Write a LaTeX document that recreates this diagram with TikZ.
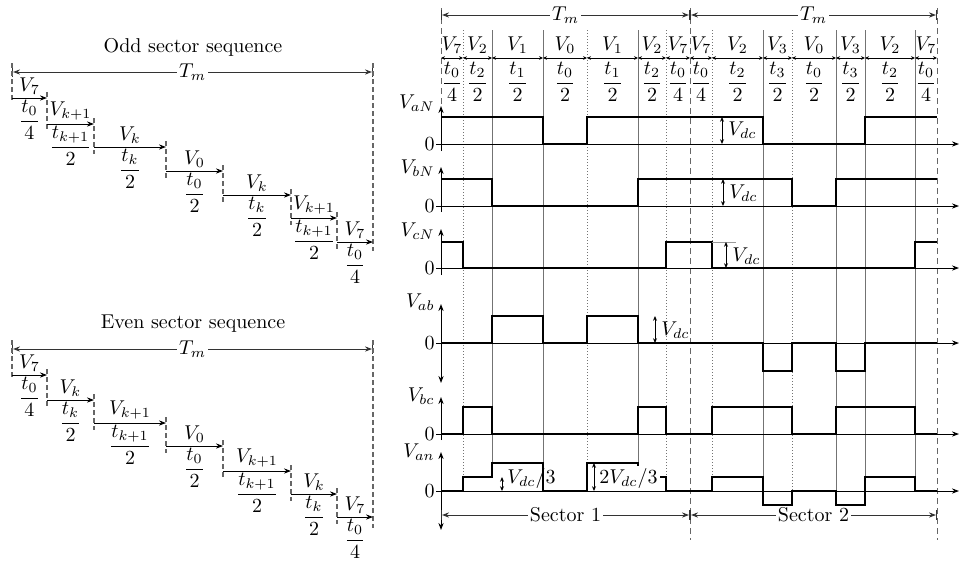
\documentclass[tikz,border=0pt]{standalone}
\usepackage{amsmath}
\usetikzlibrary{arrows.meta}
\tikzset{
  wave/.style={line width=1.1pt, line join=miter},
  axisl/.style={line width=0.5pt},
  gridl/.style={black!55, line width=0.45pt},
  gridd/.style={black!55, line width=0.5pt, densely dotted},
  bnd/.style={black!60, line width=0.5pt, dash pattern=on 3pt off 2pt},
  seqbnd/.style={black!60, line width=0.55pt, dash pattern=on 2.5pt off 1.5pt},
  dimarr/.style={<->, >={Stealth[length=2.4pt,width=2pt]}, line width=0.45pt},
  segarr/.style={<->, >={Stealth[length=2pt,width=1.8pt]}, line width=0.5pt},
  seqarr/.style={->, line width=0.5pt},
  spanarr/.style={|<->|, line width=0.5pt, draw=black!80},
  txt/.style={inner sep=1pt},
  wtxt/.style={inner sep=1pt, fill=white, text=black},
}
\newcommand{\seqpanel}[4]{%
\begin{scope}[shift={(0,#1)}]
  \node[txt] (#3title) at (193,47) {#2};
  \coordinate (#3L) at (12,72);
  \coordinate (#3R) at (373,72);
  \draw[spanarr] (#3L) -- node[wtxt] (#3tm) {$T_m$} (#3R);
  \draw[seqbnd] (12,63) -- (12,102);
  \draw[seqbnd] (373,63) -- (373,251);
  \foreach \xa/\xb/\ya/\yb/\lab/\fn/\fd [count=\i] in {#4} {
    \coordinate (#3a\i) at (\xa,\ya);
    \coordinate (#3b\i) at (\xb,\ya);
    \draw[seqarr] (#3a\i) -- (#3b\i);
    \node[txt, anchor=south] (#3l\i) at ({(\xa+\xb)/2},{\ya-1}) {$\lab$};
    \node[inner sep=0pt, anchor=north] (#3f\i) at ({(\xa+\xb)/2},{\ya+2}) {$\dfrac{\fn}{\fd}$};
    \ifnum\i<7
      \draw[seqbnd] (\xb,{\ya-6}) -- (\xb,{\yb+7});
    \fi
  }
\end{scope}}
\begin{document}
\begin{tikzpicture}[x=0.5pt,y=-0.5pt, >={Stealth[length=3.5pt,width=2.6pt]}]
\useasboundingbox (0,0) rectangle (964,562);

% ---------------- left panels ----------------
\seqpanel{0}{Odd sector sequence}{o}{%
12/47/98/124/{V_7}/{t_0}/4,
47/94/124/147/{V_{k+1}}/{t_{k+1}}/2,
94/166/147/171/{V_k}/{t_k}/2,
166/223/171/195/{V_0}/{t_0}/2,
223/291/195/218/{V_k}/{t_k}/2,
291/337/218/242/{V_{k+1}}/{t_{k+1}}/2,
337/373/242/0/{V_7}/{t_0}/4}
\seqpanel{277}{Even sector sequence}{e}{%
12/47/98/123/{V_7}/{t_0}/4,
47/94/123/146/{V_k}/{t_k}/2,
94/166/146/169/{V_{k+1}}/{t_{k+1}}/2,
166/223/169/194/{V_0}/{t_0}/2,
223/291/194/217/{V_{k+1}}/{t_{k+1}}/2,
291/337/217/240/{V_k}/{t_k}/2,
337/373/240/0/{V_7}/{t_0}/4}

% ---------------- right panel ----------------
% period boundaries
\draw[bnd] (441,8) -- (441,104);
\draw[bnd] (690,8) -- (690,540);
\draw[bnd] (937,8) -- (937,540);

\coordinate (p0) at (441,15);
\coordinate (p1) at (690,15);
\coordinate (p2) at (937,15);
\draw[spanarr] (p0) -- node[wtxt] (tm1) {$T_m$} (p1);
\draw[spanarr] (p1) -- node[wtxt] (tm2) {$T_m$} (p2);

% grid lines
\foreach \x/\ye/\st in {463/477/gridd, 492/463/gridl, 543/463/gridl, 587/463/gridd,
  638/463/gridl, 666/477/gridd, 712/477/gridd, 763/477/gridl, 792/491/gridd,
  836/491/gridl, 865/477/gridl, 915/477/gridl}
  \draw[\st] (\x,30) -- (\x,\ye);

% top row: vectors and durations
\foreach \xa/\xb/\lab/\fn/\fd [count=\i] in {441/463/7/0/4, 463/492/2/2/2, 492/543/1/1/2,
  543/587/0/0/2, 587/638/1/1/2, 638/666/2/2/2, 666/690/7/0/4, 690/712/7/0/4,
  712/763/2/2/2, 763/792/3/3/2, 792/836/0/0/2, 836/865/3/3/2, 865/915/2/2/2, 915/937/7/0/4} {
  \coordinate (sa\i) at (\xa,58);
  \coordinate (sb\i) at (\xb,58);
  \draw[segarr] (sa\i) -- (sb\i);
  \node[txt] (sv\i) at ({(\xa+\xb)/2},45) {$V_{\lab}$};
  \node[txt] (sf\i) at ({(\xa+\xb)/2},82) {$\dfrac{t_{\fn}}{\fd}$};
}

% axes
\foreach \nm/\lab/\yl/\yz/\yt/\yb/\st in {
  aN/{V_{aN}}/103/144/106/151/->,
  bN/{V_{bN}}/168/206/167/212/->,
  cN/{V_{cN}}/231/268/229/275/->,
  ab/{V_{ab}}/302/343/304/383/<->,
  bc/{V_{bc}}/396/434/397/440/->,
  an/{V_{an}}/452/491/452/530/<->} {
  \node[txt, anchor=east] (lab\nm) at (437,\yl) {$\lab$};
  \node[txt, anchor=east] (zero\nm) at (437,\yz) {$0$};
  \coordinate (zs\nm) at (436,\yz);
  \coordinate (ze\nm) at (959,\yz);
  \draw[axisl, ->] (zs\nm) -- (ze\nm);
  \coordinate (vb\nm) at (441,\yb);
  \coordinate (vt\nm) at (441,\yt);
  \draw[axisl, \st] (vb\nm) -- (vt\nm);
}

% waveforms
\draw[wave] (441,117) -- (543,117) -- (543,144) -- (587,144) -- (587,117) -- (763,117)
  -- (763,144) -- (865,144) -- (865,117) -- (937,117);
\draw[wave] (441,179) -- (492,179) -- (492,206) -- (638,206) -- (638,179) -- (792,179)
  -- (792,206) -- (836,206) -- (836,179) -- (937,179);
\draw[wave] (441,242) -- (463,242) -- (463,268) -- (666,268) -- (666,242) -- (712,242)
  -- (712,268) -- (915,268) -- (915,242) -- (937,242);
\draw[wave] (441,343) -- (492,343) -- (492,316) -- (543,316) -- (543,343) -- (587,343)
  -- (587,316) -- (638,316) -- (638,343) -- (763,343) -- (763,371) -- (792,371)
  -- (792,343) -- (836,343) -- (836,371) -- (865,371) -- (865,343) -- (937,343);
\draw[wave] (441,434) -- (463,434) -- (463,407) -- (492,407) -- (492,434) -- (638,434)
  -- (638,407) -- (666,407) -- (666,434) -- (712,434) -- (712,407) -- (792,407)
  -- (792,434) -- (836,434) -- (836,407) -- (915,407) -- (915,434) -- (937,434);
\draw[wave] (441,491) -- (463,491) -- (463,477) -- (492,477) -- (492,463) -- (543,463)
  -- (543,491) -- (587,491) -- (587,463) -- (638,463) -- (638,477) -- (666,477)
  -- (666,491) -- (712,491) -- (712,477) -- (763,477) -- (763,505) -- (792,505)
  -- (792,491) -- (836,491) -- (836,505) -- (865,505) -- (865,477) -- (915,477)
  -- (915,491) -- (937,491);

% Vdc markers
\draw[black!40, line width=0.4pt] (712,242) -- (736,242);
\draw[dimarr] (722,117) -- (722,144);
\node[txt, anchor=west] (dc1) at (726,130) {$V_{dc}$};
\draw[dimarr] (723,179) -- (723,206);
\node[txt, anchor=west] (dc2) at (727,193) {$V_{dc}$};
\draw[dimarr] (726,242) -- (726,268);
\node[txt, anchor=west] (dc3) at (730,256) {$V_{dc}$};
\draw[dimarr] (655,316) -- (655,343);
\node[txt, anchor=west] (dc4) at (659,330) {$V_{dc}$};
\draw[dimarr] (502,477) -- (502,491);
\node[txt, anchor=west] (dc5) at (505,478) {$V_{dc}/3$};
\draw[dimarr] (594,463) -- (594,491);
\node[wtxt, anchor=west] (dc6) at (597,478) {$2V_{dc}/3$};

% sectors
\coordinate (q0) at (441,515);
\coordinate (q1) at (690,515);
\coordinate (q2) at (937,515);
\draw[spanarr] (q0) -- node[wtxt] (sec1) {Sector 1} (q1);
\draw[spanarr] (q1) -- node[wtxt] (sec2) {Sector 2} (q2);
\end{tikzpicture}
\end{document}
